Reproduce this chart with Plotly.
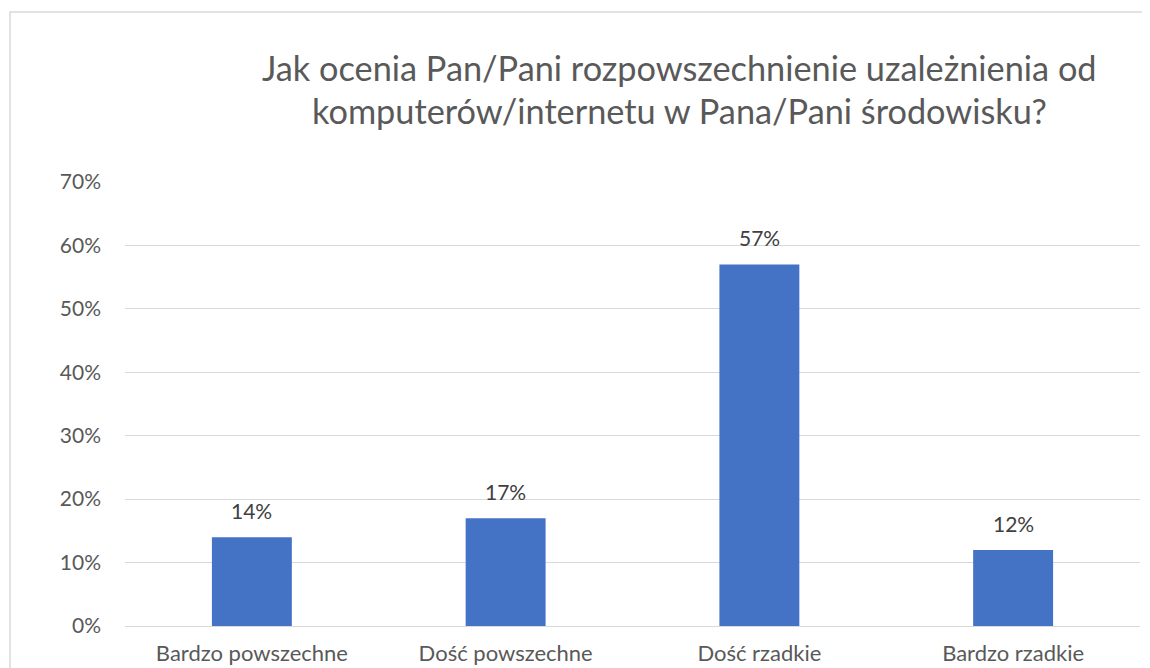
import plotly.graph_objects as go

categories = ["Bardzo powszechne", "Dość powszechne", "Dość rzadkie", "Bardzo rzadkie"]
values = [0.14, 0.17, 0.57, 0.12]
labels = ["14%", "17%", "57%", "12%"]
y_ticks = [0, 0.1, 0.2, 0.3, 0.4, 0.5, 0.6, 0.7]
y_ticklabels = ["0%", "10%", "20%", "30%", "40%", "50%", "60%", "70%"]
title_lines = ["Jak ocenia Pan/Pani rozpowszechnienie uzależnienia od",
               "komputerów/internetu w Pana/Pani środowisku?"]

FONT = "Lato"
OFF = 8  # page body margin offset
W, H = 1150 - OFF, 668 - OFF
L, R, T, B = 125 - OFF, W - (1140 - OFF), 182 - OFF, H - (626 - OFF)
pw = W - L - R
ph = H - T - B


def px_to_paper_y(py):
    return (H - B - (py - OFF)) / ph


def px_to_paper_x(px):
    return ((px - OFF) - L) / pw


fig = go.Figure()
fig.add_trace(go.Bar(
    x=categories, y=values,
    marker=dict(color="#4472C4", line=dict(width=0)),
    hoverinfo="skip",
))

for c, v, t in zip(categories, values, labels):
    fig.add_annotation(x=c, y=v, text=t, showarrow=False, yanchor="bottom",
                       yshift=12, font=dict(family=FONT, size=21, color="#404040"))

for line, py in zip(title_lines, [67, 111]):
    fig.add_annotation(xref="paper", yref="paper", x=px_to_paper_x(679), y=px_to_paper_y(py),
                       xanchor="center", yanchor="middle", showarrow=False, text=line,
                       font=dict(family=FONT, size=34.3, color="#595959"))

fig.add_shape(type="rect", xref="paper", yref="paper",
              x0=px_to_paper_x(10), x1=px_to_paper_x(1200), y0=-0.5, y1=px_to_paper_y(12),
              line=dict(color="#d9d9d9", width=1.5), fillcolor="rgba(0,0,0,0)", layer="below")

fig.update_layout(
    width=W, height=H,
    margin=dict(l=L, r=R, t=T, b=B, autoexpand=False),
    paper_bgcolor="white", plot_bgcolor="white",
    bargap=0.685,
    showlegend=False,
    font=dict(family=FONT, color="#595959"),
)
fig.update_xaxes(showgrid=False, showline=False, zeroline=False, automargin=False,
                 tickfont=dict(family=FONT, size=22, color="#595959"),
                 ticklabelstandoff=12, fixedrange=True)
fig.update_yaxes(range=[0, 0.7], tickvals=y_ticks, ticktext=y_ticklabels, automargin=False,
                 showgrid=True, gridcolor="#d9d9d9", gridwidth=1.3,
                 zeroline=True, zerolinecolor="#d9d9d9", zerolinewidth=1.3,
                 showline=False,
                 tickfont=dict(family=FONT, size=21, color="#595959"),
                 ticklabelstandoff=23, fixedrange=True)

fig.write_html("out.html")
